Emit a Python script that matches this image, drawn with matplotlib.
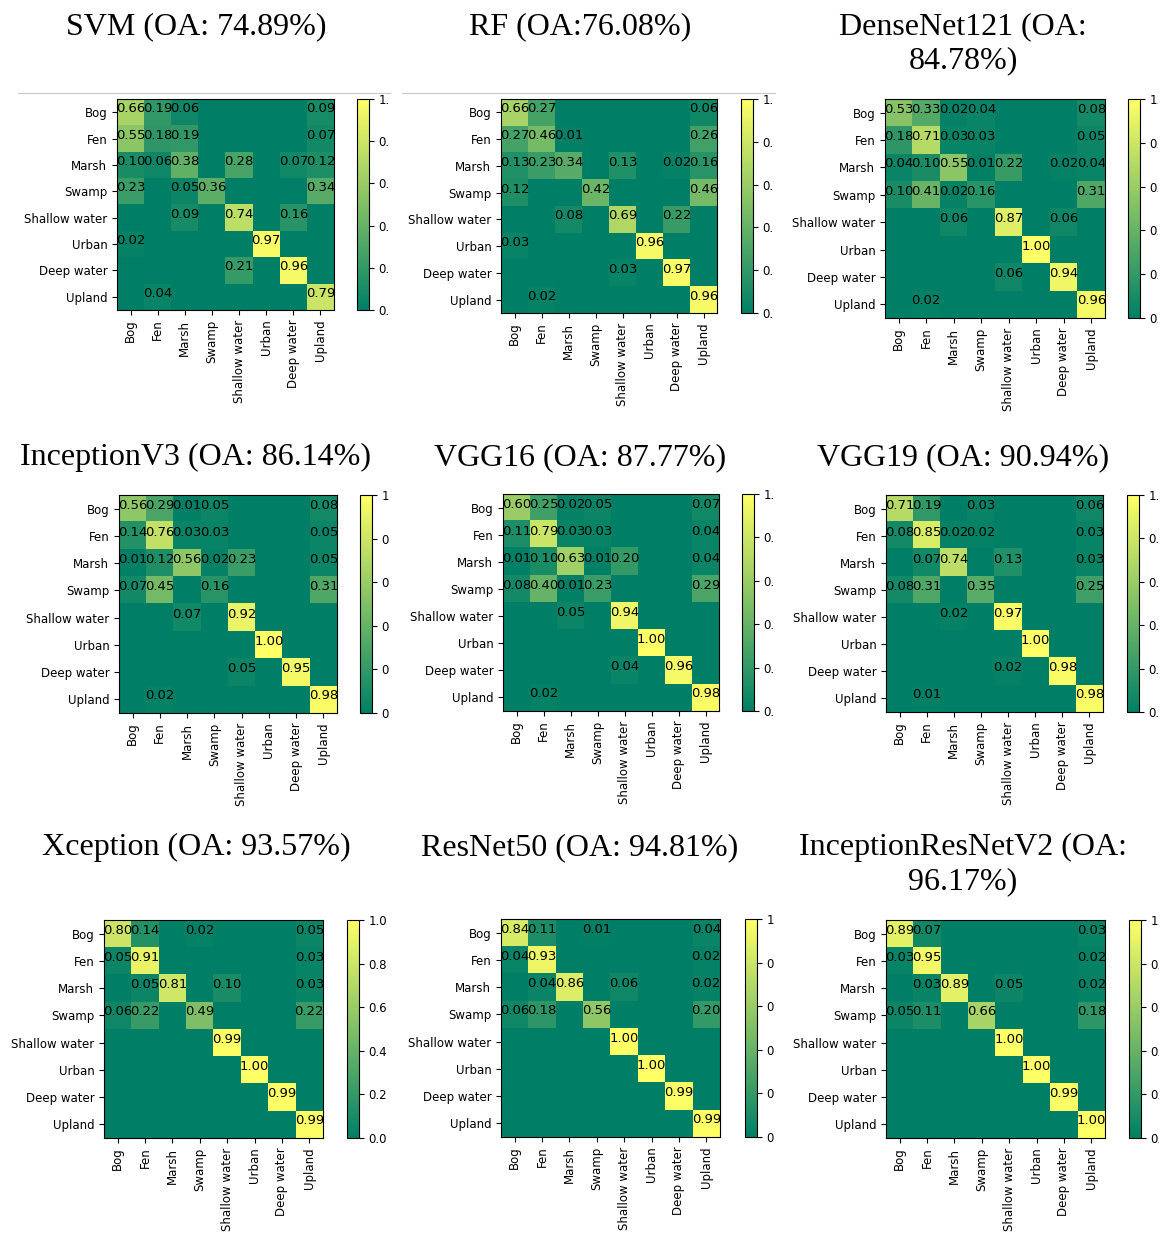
import numpy as np
import matplotlib
matplotlib.use('Agg')
import matplotlib.pyplot as plt
from matplotlib.transforms import Bbox
from matplotlib.lines import Line2D

classes = ["Bog", "Fen", "Marsh", "Swamp", "Shallow water", "Urban", "Deep water", "Upland"]

titles = ["SVM (OA: 74.89%)", "RF (OA:76.08%)", "DenseNet121 (OA:\n84.78%)",
          "InceptionV3 (OA: 86.14%)", "VGG16 (OA: 87.77%)", "VGG19 (OA: 90.94%)",
          "Xception (OA: 93.57%)", "ResNet50 (OA: 94.81%)", "InceptionResNetV2 (OA:\n96.17%)"]

cm_svm = [[0.66, 0.19, 0.06, 0, 0, 0, 0, 0.09],
          [0.55, 0.18, 0.19, 0, 0, 0, 0, 0.07],
          [0.10, 0.06, 0.38, 0, 0.28, 0, 0.07, 0.12],
          [0.23, 0, 0.05, 0.36, 0, 0, 0, 0.34],
          [0, 0, 0.09, 0, 0.74, 0, 0.16, 0],
          [0.02, 0, 0, 0, 0, 0.97, 0, 0],
          [0, 0, 0, 0, 0.21, 0, 0.96, 0],
          [0, 0.04, 0, 0, 0, 0, 0, 0.79]]

cm_rf = [[0.66, 0.27, 0, 0, 0, 0, 0, 0.06],
         [0.27, 0.46, 0.01, 0, 0, 0, 0, 0.26],
         [0.13, 0.23, 0.34, 0, 0.13, 0, 0.02, 0.16],
         [0.12, 0, 0, 0.42, 0, 0, 0, 0.46],
         [0, 0, 0.08, 0, 0.69, 0, 0.22, 0],
         [0.03, 0, 0, 0, 0, 0.96, 0, 0],
         [0, 0, 0, 0, 0.03, 0, 0.97, 0],
         [0, 0.02, 0, 0, 0, 0, 0, 0.96]]

cm_densenet = [[0.53, 0.33, 0.02, 0.04, 0, 0, 0, 0.08],
               [0.18, 0.71, 0.03, 0.03, 0, 0, 0, 0.05],
               [0.04, 0.10, 0.55, 0.01, 0.22, 0, 0.02, 0.04],
               [0.10, 0.41, 0.02, 0.16, 0, 0, 0, 0.31],
               [0, 0, 0.06, 0, 0.87, 0, 0.06, 0],
               [0, 0, 0, 0, 0, 1.00, 0, 0],
               [0, 0, 0, 0, 0.06, 0, 0.94, 0],
               [0, 0.02, 0, 0, 0, 0, 0, 0.96]]

cm_inception = [[0.56, 0.29, 0.01, 0.05, 0, 0, 0, 0.08],
                [0.14, 0.76, 0.03, 0.03, 0, 0, 0, 0.05],
                [0.01, 0.12, 0.56, 0.02, 0.23, 0, 0, 0.05],
                [0.07, 0.45, 0, 0.16, 0, 0, 0, 0.31],
                [0, 0, 0.07, 0, 0.92, 0, 0, 0],
                [0, 0, 0, 0, 0, 1.00, 0, 0],
                [0, 0, 0, 0, 0.05, 0, 0.95, 0],
                [0, 0.02, 0, 0, 0, 0, 0, 0.98]]

cm_vgg16 = [[0.60, 0.25, 0.02, 0.05, 0, 0, 0, 0.07],
            [0.11, 0.79, 0.03, 0.03, 0, 0, 0, 0.04],
            [0.01, 0.10, 0.63, 0.01, 0.20, 0, 0, 0.04],
            [0.08, 0.40, 0.01, 0.23, 0, 0, 0, 0.29],
            [0, 0, 0.05, 0, 0.94, 0, 0, 0],
            [0, 0, 0, 0, 0, 1.00, 0, 0],
            [0, 0, 0, 0, 0.04, 0, 0.96, 0],
            [0, 0.02, 0, 0, 0, 0, 0, 0.98]]

cm_vgg19 = [[0.71, 0.19, 0, 0.03, 0, 0, 0, 0.06],
            [0.08, 0.85, 0.02, 0.02, 0, 0, 0, 0.03],
            [0, 0.07, 0.74, 0, 0.13, 0, 0, 0.03],
            [0.08, 0.31, 0, 0.35, 0, 0, 0, 0.25],
            [0, 0, 0.02, 0, 0.97, 0, 0, 0],
            [0, 0, 0, 0, 0, 1.00, 0, 0],
            [0, 0, 0, 0, 0.02, 0, 0.98, 0],
            [0, 0.01, 0, 0, 0, 0, 0, 0.98]]

cm_xception = [[0.80, 0.14, 0, 0.02, 0, 0, 0, 0.05],
               [0.05, 0.91, 0, 0, 0, 0, 0, 0.03],
               [0, 0.05, 0.81, 0, 0.10, 0, 0, 0.03],
               [0.06, 0.22, 0, 0.49, 0, 0, 0, 0.22],
               [0, 0, 0, 0, 0.99, 0, 0, 0],
               [0, 0, 0, 0, 0, 1.00, 0, 0],
               [0, 0, 0, 0, 0, 0, 0.99, 0],
               [0, 0, 0, 0, 0, 0, 0, 0.99]]

cm_resnet = [[0.84, 0.11, 0, 0.01, 0, 0, 0, 0.04],
             [0.04, 0.93, 0, 0, 0, 0, 0, 0.02],
             [0, 0.04, 0.86, 0, 0.06, 0, 0, 0.02],
             [0.06, 0.18, 0, 0.56, 0, 0, 0, 0.20],
             [0, 0, 0, 0, 1.00, 0, 0, 0],
             [0, 0, 0, 0, 0, 1.00, 0, 0],
             [0, 0, 0, 0, 0, 0, 0.99, 0],
             [0, 0, 0, 0, 0, 0, 0, 0.99]]

cm_incresnet = [[0.89, 0.07, 0, 0, 0, 0, 0, 0.03],
                [0.03, 0.95, 0, 0, 0, 0, 0, 0.02],
                [0, 0.03, 0.89, 0, 0.05, 0, 0, 0.02],
                [0.05, 0.11, 0, 0.66, 0, 0, 0, 0.18],
                [0, 0, 0, 0, 1.00, 0, 0, 0],
                [0, 0, 0, 0, 0, 1.00, 0, 0],
                [0, 0, 0, 0, 0, 0, 0.99, 0],
                [0, 0, 0, 0, 0, 0, 0, 1.00]]

matrices = [cm_svm, cm_rf, cm_densenet, cm_inception, cm_vgg16, cm_vgg19,
            cm_xception, cm_resnet, cm_incresnet]

W, H = 1166, 1239
fig = plt.figure(figsize=(W / 100, H / 100), dpi=100)

# pixel boxes: matrix (left, top, right, bottom), colorbar (left, right), label cut-off x
boxes = [(117, 99, 334, 310, 357, 369, 388),
         (501, 99, 717, 313, 741, 753, 773),
         (885, 99, 1105, 318, 1128, 1140, 1158),
         (119, 495, 337, 713, 360, 372, 389),
         (503, 494, 719, 711, 742, 754, 774),
         (886, 495, 1103, 712, 1127, 1139, 1158),
         (104, 920, 323, 1138, 347, 359, None),
         (501, 919, 720, 1137, 745, 757, 774),
         (886, 920, 1105, 1138, 1129, 1141, 1159)]
title_xy = [(196, 12), (580, 12), (963, 12),
            (196, 443), (580, 443), (963, 443),
            (196, 833), (580, 833), (963, 833)]


def px_axes(l, t, r, b):
    return fig.add_axes([l / W, 1 - b / H, (r - l) / W, (b - t) / H])


cbar_labels = []
for k in range(9):
    cm = np.array(matrices[k])
    l, t, r, b, cl, cr, cut = boxes[k]
    ax = px_axes(l, t, r, b)
    im = ax.imshow(cm, cmap='summer', vmin=0, vmax=1, aspect='auto', interpolation='nearest')
    for i in range(8):
        for j in range(8):
            if cm[i, j] > 0:
                ax.text(j, i, "%.2f" % cm[i, j], ha='center', fontsize=9.5, color='black')
    ax.set_xticks(range(8))
    ax.set_yticks(range(8))
    ax.set_xticklabels(classes, rotation=90, fontsize=8.5)
    ax.set_yticklabels(classes, fontsize=8.5)

    cax = px_axes(cl, t, cr, b)
    cb = fig.colorbar(im, cax=cax, ticks=[0, 0.2, 0.4, 0.6, 0.8, 1.0], format='%.1f')
    cb.ax.tick_params(labelsize=8.5)
    cb.outline.set_linewidth(0.8)
    cbar_labels.append((cb.ax, cut))

    tx, ty = title_xy[k]
    fig.text(tx / W, 1 - ty / H, titles[k], ha='center', va='top', fontsize=23,
             family='Liberation Serif', linespacing=1.25)

# thin border lines above the first two panels
fig.add_artist(Line2D([18 / W, 390 / W], [1 - 92.5 / H] * 2, color='#c8c8c8', lw=0.8))
fig.add_artist(Line2D([402 / W, 775 / W], [1 - 92.5 / H] * 2, color='#c8c8c8', lw=0.8))

fig.canvas.draw()
for cax, cut in cbar_labels:
    if cut is None:
        continue
    box = Bbox([[0, 0], [cut, H]])
    for lab in cax.get_yticklabels():
        lab.set_clip_on(True)
        lab.set_clip_box(box)

fig.savefig("out.png", dpi=100)
